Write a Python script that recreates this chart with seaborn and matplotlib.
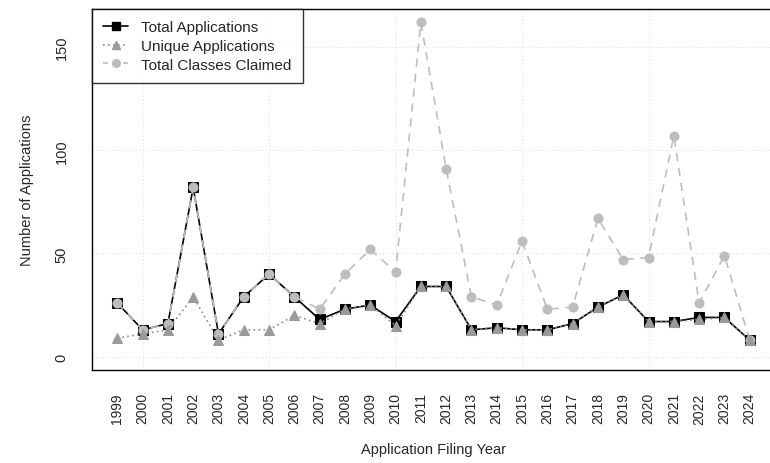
import matplotlib
matplotlib.use("Agg")
import matplotlib.pyplot as plt
import seaborn as sns
import pandas as pd
from matplotlib.lines import Line2D

# values
years = list(range(1999, 2025))
total_apps = [26, 13, 16, 82, 11, 29, 40, 29, 18, 23, 25, 17, 34, 34, 13, 14, 13, 13, 16, 24, 30, 17, 17, 19, 19, 8]
unique_apps = [9, 11, 13, 29, 8, 13, 13, 20, 16, 23, 25, 15, 34, 34, 13, 14, 13, 13, 16, 24, 30, 17, 17, 18, 19, 8]
classes_claimed = [26, 13, 16, 82, 11, 29, 40, 29, 23, 40, 52, 41, 162, 91, 29, 25, 56, 23, 24, 67, 47, 48, 107, 26, 49, 8]

df = pd.DataFrame({"year": years,
                   "total": total_apps,
                   "unique": unique_apps,
                   "classes": classes_claimed})

sns.set_style("white")
plt.rcParams["font.family"] = ["Liberation Sans", "DejaVu Sans"]

fig = plt.figure(figsize=(7.7, 4.64), dpi=100)
ax = fig.add_axes([92 / 770, 1 - 371 / 464, 683 / 770, 361 / 464])

# R-style dotted grid
for yv in [0, 50, 100, 150]:
    ax.axhline(yv, color="#e0e0e0", lw=0.8, ls=(0, (1, 2)), zorder=0)
for xv in [2000, 2005, 2010, 2015, 2020]:
    ax.axvline(xv, color="#e0e0e0", lw=0.8, ls=(0, (1, 2)), zorder=0)

sns.lineplot(data=df, x="year", y="total", ax=ax, color="black", lw=1.2,
             marker="s", markersize=7, markerfacecolor="black", markeredgecolor="black", zorder=2)
sns.lineplot(data=df, x="year", y="classes", ax=ax, color="#bdbdbd", lw=1.2, ls=(0, (5, 4)),
             marker="o", markersize=6.5, markerfacecolor="#bdbdbd", markeredgecolor="#bdbdbd", zorder=3)
sns.lineplot(data=df, x="year", y="unique", ax=ax, color="#8c8c8c", lw=1.2, ls=(0, (1, 2)),
             marker="^", markersize=6.5, markerfacecolor="#9a9a9a", markeredgecolor="#9a9a9a", zorder=4)

ax.set_xlim(1998, 2025)
ax.set_ylim(-6.48, 168.48)
ax.set_xticks(years)
ax.set_xticklabels([str(y) for y in years], rotation=90, fontsize=10)
ax.set_yticks([0, 50, 100, 150])
ax.set_yticklabels(["0", "50", "100", "150"], rotation=90, va="center", fontsize=10.5)
ax.tick_params(axis="both", direction="out", length=7, width=1, color="black")
ax.tick_params(axis="x", pad=9)
ax.tick_params(axis="y", pad=10)

for s in ax.spines.values():
    s.set_color("black")
    s.set_linewidth(1)

ax.set_xlabel("Application Filing Year", fontsize=10.5, labelpad=13)
ax.set_ylabel("Number of Applications", fontsize=10.5, labelpad=15)

handles = [
    Line2D([], [], color="black", lw=1.2, marker="s", markersize=6),
    Line2D([], [], color="#8c8c8c", lw=1.2, ls=(0, (1, 2)), marker="^", markersize=6,
           markerfacecolor="#9a9a9a", markeredgecolor="#9a9a9a"),
    Line2D([], [], color="#bdbdbd", lw=1.2, ls=(0, (3, 3)), marker="o", markersize=5.5,
           markerfacecolor="#bdbdbd", markeredgecolor="#bdbdbd"),
]
leg = ax.legend(handles, ["Total Applications", "Unique Applications", "Total Classes Claimed"],
                loc="upper left", borderaxespad=0, fontsize=11, frameon=True, fancybox=False,
                handlelength=1.6, labelspacing=0.3, borderpad=0.75, handletextpad=0.85)
leg.get_frame().set_edgecolor("black")
leg.get_frame().set_linewidth(1)
leg.set_zorder(10)

fig.savefig("out.png", dpi=100)
